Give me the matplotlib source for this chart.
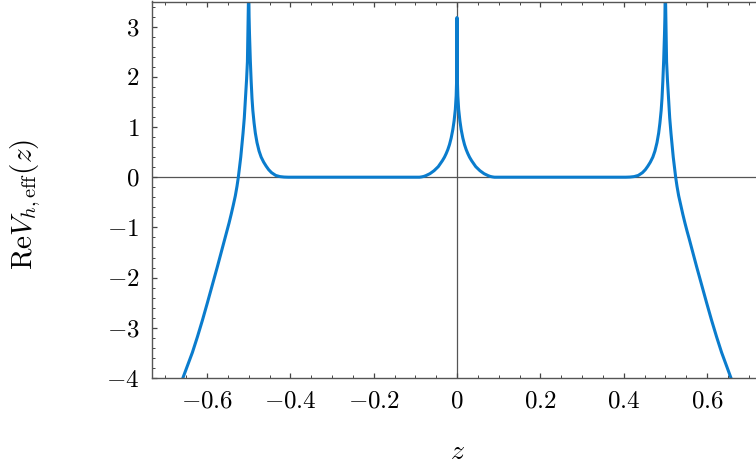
import numpy as np
import matplotlib.pyplot as plt
from matplotlib.ticker import MultipleLocator, FuncFormatter

plt.rcParams['mathtext.fontset'] = 'cm'
plt.rcParams['font.family'] = 'serif'
plt.rcParams['font.serif'] = ['cmr10', 'DejaVu Serif']

# values for z >= 0 (curve is even in z)
z_pos = [0.0, 0.0005, 0.001, 0.002, 0.004, 0.007, 0.010, 0.014, 0.018, 0.022,
         0.026, 0.030, 0.035, 0.040, 0.045, 0.050, 0.055, 0.060, 0.065, 0.070,
         0.075, 0.080, 0.085, 0.090,
         0.405, 0.415, 0.425, 0.435, 0.445, 0.452, 0.458, 0.464, 0.470, 0.475,
         0.480, 0.484, 0.487, 0.490, 0.492, 0.494, 0.496, 0.498, 0.499, 0.4996,
         0.5004, 0.5015, 0.5030, 0.5050, 0.5080, 0.5105, 0.5136, 0.5165, 0.5190,
         0.5220, 0.5248, 0.528, 0.532, 0.537, 0.542, 0.547, 0.552, 0.557,
         0.565, 0.575, 0.587, 0.599, 0.611, 0.623, 0.635, 0.647, 0.657, 0.662]
v_pos = [3.18, 2.20, 1.90, 1.62, 1.35, 1.12, 0.95, 0.78, 0.65, 0.55,
         0.47, 0.40, 0.33, 0.27, 0.21, 0.17, 0.13, 0.10, 0.07, 0.05,
         0.03, 0.015, 0.006, 0.0,
         0.0, 0.003, 0.012, 0.035, 0.09, 0.15, 0.22, 0.30, 0.40, 0.52,
         0.69, 0.88, 1.08, 1.33, 1.57, 1.91, 2.32, 2.85, 3.20, 3.60,
         3.60, 3.00, 2.30, 1.95, 1.53, 1.18, 0.87, 0.62, 0.40,
         0.19, 0.0, -0.18, -0.37, -0.56, -0.74, -0.91, -1.07, -1.22,
         -1.47, -1.78, -2.14, -2.50, -2.85, -3.18, -3.49, -3.76, -3.98, -4.10]

z = np.concatenate([-np.array(z_pos[:0:-1]), z_pos])
v = np.concatenate([np.array(v_pos[:0:-1]), v_pos])

xticks = [-0.6, -0.4, -0.2, 0, 0.2, 0.4, 0.6]
yticks = [-4, -3, -2, -1, 0, 1, 2, 3]

fig = plt.figure(figsize=(7.56, 4.66), dpi=100)
ax = fig.add_axes([152 / 756, 1 - 378 / 466, 1 - 152 / 756, (378 - 1.5) / 466])

ax.axhline(0, color='#555555', lw=0.9, zorder=1)
ax.axvline(0, color='#555555', lw=0.9, zorder=1)
ax.plot(z, v, color='#0a7ccd', lw=2.2, zorder=2, solid_joinstyle='round')

ax.set_xlim(-0.732, 0.7176)
ax.set_ylim(-4, 3.5)

ax.spines['right'].set_visible(False)
for s in ['left', 'bottom', 'top']:
    ax.spines[s].set_color('#555555')
    ax.spines[s].set_linewidth(1.0)

ax.set_xticks(xticks)
ax.set_yticks(yticks)
ax.xaxis.set_minor_locator(MultipleLocator(0.05))
ax.yaxis.set_minor_locator(MultipleLocator(0.2))
fmt = FuncFormatter(lambda val, pos: r'$%g$' % round(val, 2))
ax.xaxis.set_major_formatter(fmt)
ax.yaxis.set_major_formatter(fmt)
ax.tick_params(which='both', direction='in', top=True, right=False,
               color='#444444', labelsize=18)
ax.tick_params(which='major', length=3.8, width=0.9)
ax.tick_params(which='minor', length=2.2, width=0.7)
ax.tick_params(axis='y', pad=9)
ax.tick_params(axis='x', pad=9)

fig.text(457 / 756, 1 - 452 / 466, r'$z$', fontsize=20, ha='center', va='center')
fig.text(26 / 756, 1 - 204 / 466, r'$\mathrm{Re}V_{h,\mathrm{eff}}(z)$', fontsize=21,
         ha='center', va='center', rotation=90)

fig.savefig('out.png', dpi=100)
